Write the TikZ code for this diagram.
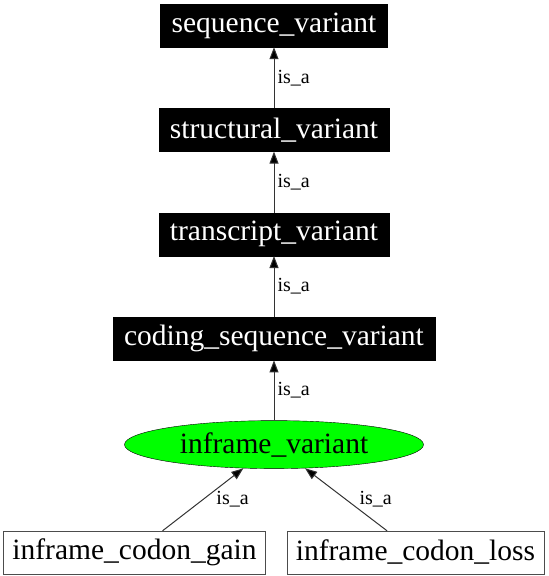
\documentclass[tikz,border=0pt]{standalone}
\usepackage{fontspec}
\setmainfont{Liberation Serif}
\usetikzlibrary{shapes,arrows.meta,positioning}

\begin{document}
\begin{tikzpicture}[x=1pt, y=1pt, node distance=61pt, auto,
  term/.style={rectangle, draw=black, fill=black, text=white, minimum height=43pt, inner xsep=11pt, font=\fontsize{29.5}{30}\selectfont},
  leaf/.style={rectangle, draw=black!70, fill=white, minimum height=43pt, inner xsep=9pt, font=\fontsize{29.5}{30}\selectfont},
  focus/.style={ellipse, draw=black, fill=green, minimum width=299pt, minimum height=48pt, inner sep=0pt, font=\fontsize{29.5}{30}\selectfont},
  isa/.style={-{Triangle[length=12pt,width=9pt,fill=black]}, draw=black!80, line width=1pt},
  lbl/.style={font=\fontsize{20}{22}\selectfont, inner sep=3pt}]
\useasboundingbox (0,0) rectangle (549,-576);
\node[term] (seqvar) at (274,-25.5) {sequence\_variant};
\node[term, below=of seqvar] (structvar) {structural\_variant};
\node[term, below=of structvar] (transvar) {transcript\_variant};
\node[term, below=of transvar] (codingvar) {coding\_sequence\_variant};
\node[focus, below=60pt of codingvar] (inframe) {inframe\_variant};
\node[leaf, below=62pt of inframe, xshift=-139.5pt] (gain) {inframe\_codon\_gain};
\node[leaf, below=62pt of inframe, xshift=141.5pt] (loss) {inframe\_codon\_loss};
\draw[isa] (structvar) -- node[lbl, right] {is\_a} (seqvar);
\draw[isa] (transvar) -- node[lbl, right] {is\_a} (structvar);
\draw[isa] (codingvar) -- node[lbl, right] {is\_a} (transvar);
\draw[isa] (inframe) -- node[lbl, right] {is\_a} (codingvar);
\draw[isa] (gain) -- node[lbl, right=10pt] {is\_a} (inframe);
\draw[isa] (loss) -- node[lbl, right=10pt] {is\_a} (inframe);
\end{tikzpicture}
\end{document}
